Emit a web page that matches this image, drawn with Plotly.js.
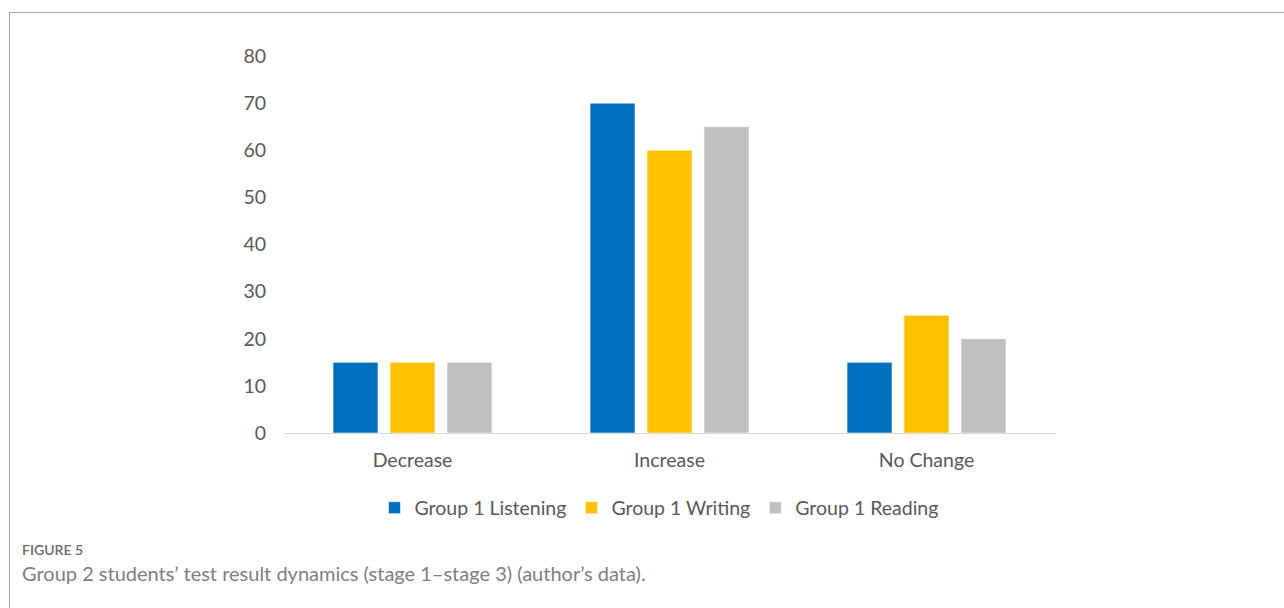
<!DOCTYPE html>
<html><head><meta charset="utf-8">
<script src="https://cdn.plot.ly/plotly-3.0.1.min.js"></script>
<style>
html,body{margin:0;padding:0;background:#fff;overflow:hidden;}
#chart{width:1284px;height:608px;}
#frame{position:absolute;left:9px;top:12px;width:1400px;height:700px;border:1px solid #ababab;pointer-events:none;}
</style></head>
<body>
<div id="frame"></div>
<div id="chart"></div>
<script>
const categories = ["Decrease", "Increase", "No Change"];
const seriesNames = ["Group 1 Listening", "Group 1 Writing", "Group 1 Reading"];
const listening = [15, 70, 15];
const writing = [15, 60, 25];
const reading = [15, 65, 20];
const yTicks = [0, 10, 20, 30, 40, 50, 60, 70, 80];
const colors = ["#0070C0", "#FFC000", "#BFBFBF"];
const seriesValues = [listening, writing, reading];

const W = 1284, H = 608;
const L = 284, R = 229, T = 56, B = 175;
const pw = W - L - R, ph = H - T - B;
const px = x => (x - L) / pw;
const py = y => (H - B - y) / ph;

const traces = seriesValues.map((vals, i) => ({
  type: "bar",
  name: seriesNames[i],
  x: categories,
  y: vals,
  marker: {color: colors[i], line: {color: "rgba(255,255,255,0.6)", width: 1}},
  hoverinfo: "x+y+name"
}));

const font = "Lato, 'Open Sans', sans-serif";
const layout = {
  width: W, height: H,
  margin: {l: L, r: R, t: T, b: B, pad: 0},
  paper_bgcolor: "rgba(0,0,0,0)",
  plot_bgcolor: "rgba(0,0,0,0)",
  barmode: "group",
  bargap: 0.335,
  bargroupgap: 0.21,
  showlegend: true,
  legend: {
    orientation: "h", x: px(659), xanchor: "center", y: py(508), yanchor: "middle",
    font: {family: font, size: 19.5, color: "#595959"},
    itemwidth: 30, traceorder: "normal"
  },
  xaxis: {
    type: "category",
    showline: true, linecolor: "#D9D9D9", linewidth: 1,
    showgrid: false, zeroline: false, ticks: "",
    tickfont: {family: font, size: 19.5, color: "#595959"},
    ticklabelstandoff: 10
  },
  yaxis: {
    range: [0, 80], tickvals: yTicks, showgrid: false, zeroline: false,
    showline: false, ticks: "",
    tickfont: {family: font, size: 19.5, color: "#595959"},
    ticklabelstandoff: 17
  },
  annotations: [
    {xref: "paper", yref: "paper", x: px(20), y: py(549), xanchor: "left", yanchor: "middle",
     text: "FIGURE 5", showarrow: false, font: {family: font, size: 14, color: "#6a6a6a", weight: 600}},
    {xref: "paper", yref: "paper", x: px(20), y: py(573), xanchor: "left", yanchor: "middle",
     text: "Group 2 students\u2019 test result dynamics (stage 1\u2013stage 3) (author\u2019s data).",
     showarrow: false, font: {family: font, size: 20, color: "#808080", weight: 400}}
  ]
};
Plotly.newPlot("chart", traces, layout, {displayModeBar: false, staticPlot: false});
</script>
</body></html>
